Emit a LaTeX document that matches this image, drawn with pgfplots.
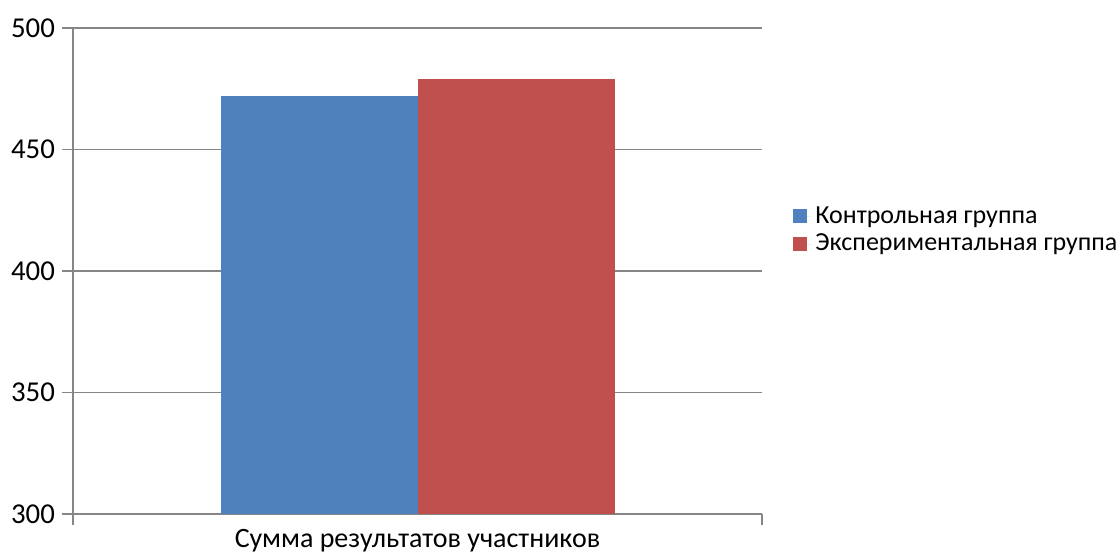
\documentclass[border=0pt]{standalone}
\usepackage{fontspec}
\setmainfont{Carlito}
\usepackage{pgfplots}
\pgfplotsset{compat=1.18}
\definecolor{cblue}{HTML}{4F81BD}
\definecolor{cred}{HTML}{C0504D}
\definecolor{axgray}{HTML}{868686}

\begin{document}
\begin{tikzpicture}
% frame to fix the page size to the reference proportions
\path[use as bounding box] (-36.5pt,-21pt) rectangle (522.5pt,257pt);
\begin{axis}[
    at={(0,0)}, anchor=origin,
    scale only axis,
    width=344.5pt, height=243pt,
    ybar=0pt, bar width=98.5pt,
    xmin=0, xmax=1,
    ymin=300, ymax=500,
    ytick={300,350,...,500},
    xtick={0,1}, xticklabels={},
    axis lines=left,
    axis line style={draw=axgray, thick, -},
    ymajorgrids, grid style={axgray, thick},
    tick style={axgray, thick},
    major tick length=5.5pt,
    tick align=outside,
    /pgf/number format/assume math mode=true,
    yticklabel style={font=\fontsize{14.4}{16}\selectfont},
    xlabel={Сумма результатов участников},
    xlabel style={font=\fontsize{14}{16}\selectfont, at={(0.5,0)}, anchor=center, yshift=-13.5pt},
    legend style={at={(1.045,0.584)}, anchor=west, draw=none, fill=none,
        inner xsep=0pt, font=\fontsize{13}{15}\selectfont, row sep=0pt},
    legend image code/.code={\path (0pt,0pt) rectangle (9pt,0pt);
        \fill[#1] (0pt,-3.5pt) rectangle (7pt,3.5pt);},
    legend cell align=left,
]
\addplot[fill=cblue, draw=none] coordinates {(0.5,472)};
\addplot[fill=cred, draw=none] coordinates {(0.5,479)};
\legend{Контрольная группа, Экспериментальная группа}
\end{axis}
\end{tikzpicture}
\end{document}
